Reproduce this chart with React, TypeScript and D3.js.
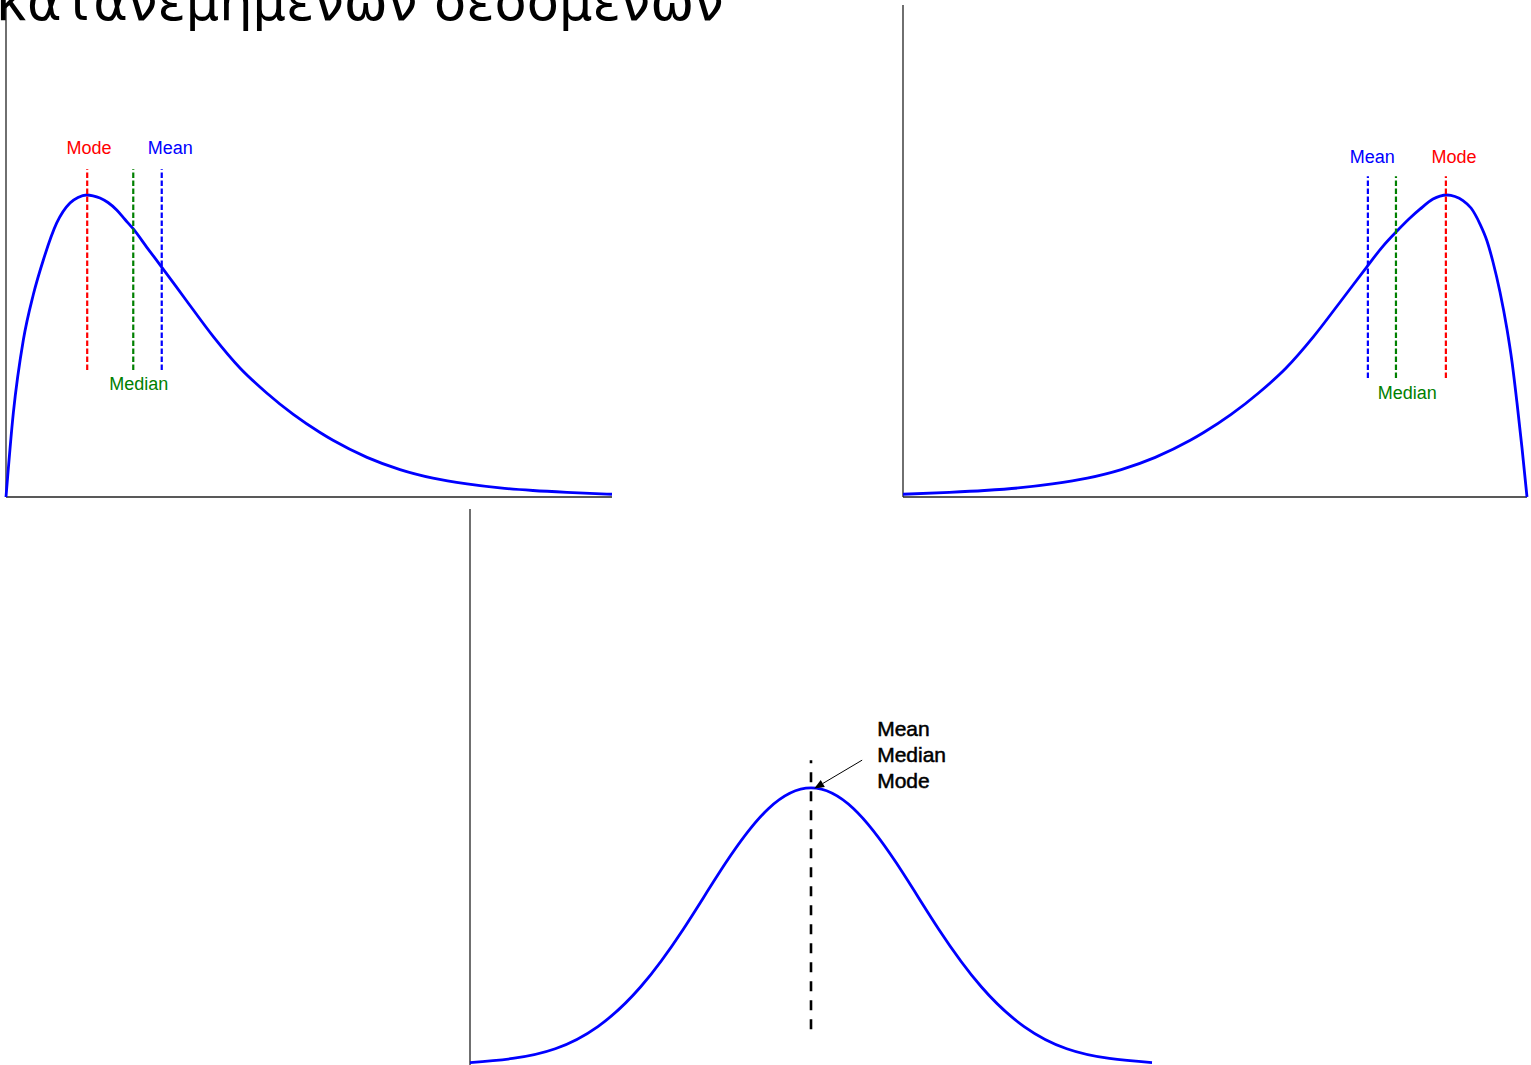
import React from "react";
import * as d3 from "d3";

// ---------- data ----------
const titleLine = "κατανεμημένων δεδομένων";

// Right-skewed density (positive skew)
const rightSkewX = [0, 0.121, 0.286, 0.451, 0.616, 0.837, 1.056, 1.188, 1.332, 1.436, 1.551, 1.683, 1.827, 1.964, 2.101, 2.327, 2.569, 2.982, 3.421, 3.861, 4.302, 4.741, 5.182, 5.396, 5.957, 6.502, 7.046, 7.607, 8.152, 8.696, 9.257, 10];
const rightSkewY = [0, 0.0854, 0.1596, 0.2058, 0.2409, 0.2785, 0.2988, 0.3044, 0.3069, 0.3061, 0.3039, 0.2993, 0.2917, 0.282, 0.2724, 0.2535, 0.2337, 0.1992, 0.163, 0.1311, 0.1057, 0.0839, 0.0655, 0.0576, 0.0403, 0.0279, 0.0192, 0.0133, 0.0092, 0.0066, 0.0047, 0.0028];

// Left-skewed density (negative skew)
const leftSkewX = [0, 0.743, 1.304, 1.848, 2.393, 2.954, 3.498, 4.043, 4.604, 4.818, 5.259, 5.698, 6.139, 6.579, 7.018, 7.431, 7.673, 7.917, 8.125, 8.285, 8.494, 8.606, 8.718, 8.846, 8.974, 9.103, 9.247, 9.359, 9.455, 9.567, 9.679, 9.76, 9.84, 9.92, 10];
const leftSkewY = [0.0028, 0.0047, 0.0066, 0.0092, 0.0133, 0.0192, 0.0279, 0.0403, 0.0576, 0.0655, 0.0839, 0.1057, 0.1311, 0.163, 0.1992, 0.2337, 0.2535, 0.2703, 0.2835, 0.2925, 0.3028, 0.3058, 0.3069, 0.3054, 0.3013, 0.2937, 0.2774, 0.2602, 0.2388, 0.2083, 0.1707, 0.1372, 0.0955, 0.0498, 0];

// Symmetric density
const symX = [-3.2, -2.8, -2.4, -2.0, -1.6, -1.2, -0.8, -0.4, 0, 0.4, 0.8, 1.2, 1.6, 2.0, 2.4, 2.8, 3.2];
const symY = [0.002, 0.008, 0.022, 0.054, 0.111, 0.194, 0.29, 0.368, 0.398, 0.368, 0.29, 0.194, 0.111, 0.054, 0.022, 0.008, 0.002];

// Central-tendency markers: name, value, label anchor
const markerNames = ["Mode", "Median", "Mean"];
const markerColors = ["#ff0000", "#008000", "#0000ff"];
const rightSkewMarkers = [1.34, 2.1, 2.57];
const rightSkewLabelX = [1.37, 2.19, 2.71];
const rightSkewSpan = [0.129, 0.333];
const rightSkewLabelY = [0.349, 0.109, 0.349];

const leftSkewMarkers = [8.7, 7.9, 7.45];
const leftSkewLabelX = [8.83, 8.08, 7.52];
const leftSkewSpan = [0.121, 0.326];
const leftSkewLabelY = [0.339, 0.1, 0.339];

const symCenter = 0;
const symSpan = [0.05, 0.438];
const symArrowTail = [0.48, 0.438];
const symArrowTip = [0.03, 0.397];
const symLabels = ["Mean", "Median", "Mode"];

const W = 1531;
const H = 1065;
const labelFont = "'Liberation Sans', Arial, Helvetica, sans-serif";

type Panel = {
  xs: number[];
  ys: number[];
  xDomain: [number, number];
  yDomain: [number, number];
  xRange: [number, number];
  yRange: [number, number];
};

function SkewPanel({
  p,
  markers,
  labelX,
  labelY,
  span,
}: {
  p: Panel;
  markers: number[];
  labelX: number[];
  labelY: number[];
  span: number[];
}) {
  const x = d3.scaleLinear().domain(p.xDomain).range(p.xRange);
  const y = d3.scaleLinear().domain(p.yDomain).range(p.yRange);
  const pts = p.xs.map((v, i) => [v, p.ys[i]] as [number, number]);
  const line = d3
    .line<[number, number]>()
    .x((d) => x(d[0]))
    .y((d) => y(d[1]))
    .curve(d3.curveMonotoneX);
  return (
    <g>
      <line x1={p.xRange[0]} x2={p.xRange[0]} y1={p.yRange[1]} y2={p.yRange[0]} stroke="#222" strokeWidth={1.3} />
      <line x1={p.xRange[0]} x2={p.xRange[1]} y1={p.yRange[0]} y2={p.yRange[0]} stroke="#222" strokeWidth={1.3} />
      <path d={line(pts) || ""} fill="none" stroke="#0000ff" strokeWidth={2.8} />
      {markers.map((m, i) => (
        <g key={markerNames[i]}>
          <line
            x1={x(m)}
            x2={x(m)}
            y1={y(span[0])}
            y2={y(span[1])}
            stroke={markerColors[i]}
            strokeWidth={2.2}
            strokeDasharray="5.5,2.5"
          />
          <text
            x={x(labelX[i])}
            y={y(labelY[i])}
            textAnchor="middle"
            fill={markerColors[i]}
            fontFamily={labelFont}
            fontSize={18}
          >
            {markerNames[i]}
          </text>
        </g>
      ))}
    </g>
  );
}

function SymPanel() {
  const xRange: [number, number] = [470, 1152];
  const yRange: [number, number] = [1064, 509];
  const x = d3.scaleLinear().domain([-3.2, 3.2]).range(xRange);
  const y = d3.scaleLinear().domain([0, 0.8]).range(yRange);
  const pts = symX.map((v, i) => [v, symY[i]] as [number, number]);
  const line = d3
    .line<[number, number]>()
    .x((d) => x(d[0]))
    .y((d) => y(d[1]))
    .curve(d3.curveNatural);

  const tx = x(symArrowTail[0]);
  const ty = y(symArrowTail[1]);
  const hx = x(symArrowTip[0]);
  const hy = y(symArrowTip[1]);
  const dx = hx - tx;
  const dy = hy - ty;
  const len = Math.hypot(dx, dy);
  const ux = dx / len;
  const uy = dy / len;
  const headL = 10;
  const headW = 4;
  const bx = hx - ux * headL;
  const by = hy - uy * headL;
  const head = `M${hx},${hy}L${bx - uy * headW},${by + ux * headW}L${bx + uy * headW},${by - ux * headW}Z`;

  return (
    <g>
      <line x1={xRange[0]} x2={xRange[0]} y1={yRange[1]} y2={yRange[0] + 3} stroke="#222" strokeWidth={1.3} />
      <path d={line(pts) || ""} fill="none" stroke="#0000ff" strokeWidth={2.8} />
      <line
        x1={x(symCenter)}
        x2={x(symCenter)}
        y1={y(symSpan[0])}
        y2={y(symSpan[1])}
        stroke="#000"
        strokeWidth={2.6}
        strokeDasharray="10,9"
      />
      <line x1={tx} y1={ty} x2={bx} y2={by} stroke="#000" strokeWidth={1} />
      <path d={head} fill="#000" />
      {symLabels.map((t, i) => (
        <text
          key={t}
          x={tx + 15}
          y={ty - 24 + i * 26}
          fill="#000"
          stroke="#000"
          strokeWidth={0.5}
          fontFamily={labelFont}
          fontSize={21}
        >
          {t}
        </text>
      ))}
    </g>
  );
}

export default function App() {
  const left: Panel = {
    xs: rightSkewX,
    ys: rightSkewY,
    xDomain: [0, 10],
    yDomain: [0, 0.5],
    xRange: [6, 612],
    yRange: [497, 5],
  };
  const right: Panel = {
    xs: leftSkewX,
    ys: leftSkewY,
    xDomain: [0, 10],
    yDomain: [0, 0.5],
    xRange: [903, 1527],
    yRange: [497, 5],
  };
  return (
    <svg
      width={W}
      height={H}
      style={{ position: "absolute", left: 0, top: 0, display: "block", background: "#fff" }}
    >
      <rect width={W} height={H} fill="#fff" />
      <SkewPanel p={left} markers={rightSkewMarkers} labelX={rightSkewLabelX} labelY={rightSkewLabelY} span={rightSkewSpan} />
      <SkewPanel p={right} markers={leftSkewMarkers} labelX={leftSkewLabelX} labelY={leftSkewLabelY} span={leftSkewSpan} />
      <SymPanel />
      <text x={-4} y={20} fontFamily="'DejaVu Sans', sans-serif" fontSize={52.6} fill="#000">
        {titleLine}
      </text>
    </svg>
  );
}
